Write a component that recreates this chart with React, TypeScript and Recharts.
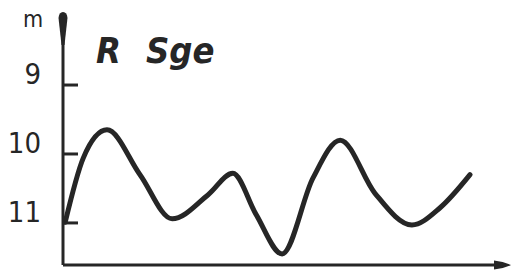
import React from "react";
import { LineChart, Line, XAxis, YAxis } from "recharts";

// phase (0-100 along the time axis) and visual magnitude of R Sge
const phase = [
  0.5, 4.6, 10, 17.5, 24.8, 33, 38.6, 43.9, 49.8, 56.8, 63, 70.9, 79.3, 85.7,
  92.5,
];
const magnitude = [
  10.99, 10.06, 9.65, 10.3, 10.94, 10.59, 10.28, 10.88, 11.45, 10.35, 9.8,
  10.57, 11.03, 10.78, 10.3,
];
const magTicks = [9, 10, 11];
const starName = ["R", "Sge"];
const unit = "m";

const data = phase.map((t, i) => ({ t, mag: magnitude[i] }));

const ink = "#262626";
const font = "'Liberation Sans Narrow', 'DejaVu Sans Condensed', sans-serif";

function MagTick(props: any) {
  const { x, y, payload } = props;
  return (
    <g>
      <line x1={x} x2={x + 15} y1={y} y2={y} stroke={ink} strokeWidth={3} />
      <text
        x={x - 22}
        y={y - 1}
        textAnchor="end"
        fontSize={29}
        fontFamily={font}
        fill={ink}
      >
        {payload.value}
      </text>
    </g>
  );
}

function UnitLabel(props: any) {
  const { viewBox } = props;
  return (
    <text
      x={viewBox.x + 33}
      y={viewBox.y + 13}
      textAnchor="middle"
      fontSize={23}
      fontFamily={font}
      fill={ink}
    >
      {unit}
    </text>
  );
}

export default function App() {
  return (
    <div style={{ position: "absolute", left: 0, top: 0, width: 513, height: 273 }}>
      <svg width={0} height={0} style={{ position: "absolute" }}>
        <defs>
          <marker
            id="arrowUp"
            markerUnits="userSpaceOnUse"
            markerWidth={34}
            markerHeight={10}
            refX={31}
            refY={5}
            orient="auto-start-reverse"
            overflow="visible"
          >
            <path d="M0,3.5 L27,0.5 Q33,1 33,5 Q33,9 27,9.5 L0,6.5 Z" fill={ink} />
          </marker>
          <marker
            id="arrowRight"
            markerUnits="userSpaceOnUse"
            markerWidth={17}
            markerHeight={10}
            refX={9}
            refY={5}
            orient="auto"
            overflow="visible"
          >
            <path d="M0,0.5 Q10,1.5 17,5 Q10,8.5 0,9.5 Z" fill={ink} />
          </marker>
        </defs>
      </svg>
      <LineChart
        width={513}
        height={273}
        data={data}
        margin={{ top: 14, right: 10, bottom: 6, left: 0 }}
      >
        <XAxis
          dataKey="t"
          type="number"
          domain={[0, 100]}
          height={2}
          tick={false}
          tickLine={false}
          axisLine={{ stroke: ink, strokeWidth: 3, markerEnd: "url(#arrowRight)" }}
        />
        <YAxis
          dataKey="mag"
          type="number"
          domain={[7.97, 11.61]}
          reversed
          width={63}
          ticks={magTicks}
          interval={0}
          tickSize={0}
          tickMargin={0}
          tickLine={false}
          tick={<MagTick />}
          axisLine={{ stroke: ink, strokeWidth: 3, markerStart: "url(#arrowUp)" }}
          label={<UnitLabel />}
        />
        <Line
          dataKey="mag"
          type="monotone"
          stroke={ink}
          strokeWidth={5}
          strokeLinecap="round"
          strokeLinejoin="round"
          dot={false}
          isAnimationActive={false}
        />
      </LineChart>
      <svg
        width={513}
        height={273}
        style={{ position: "absolute", left: 0, top: 0, pointerEvents: "none" }}
      >
        <text
          y={63}
          fontSize={36}
          fontWeight="bold"
          fontStyle="italic"
          fontFamily={font}
          fill={ink}
        >
          <tspan x={96}>{starName[0]}</tspan>
          <tspan x={146}>{starName[1]}</tspan>
        </text>
      </svg>
    </div>
  );
}
